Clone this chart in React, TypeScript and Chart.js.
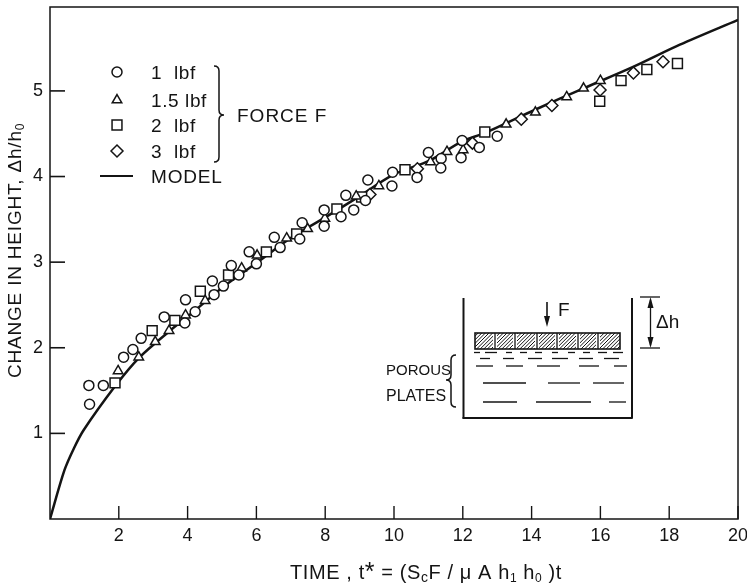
import React, { useEffect, useRef } from "react";
import { Chart, registerables } from "chart.js";
import { drawPoint } from "chart.js/helpers";

Chart.register(...registerables);

const xTickValues = [2, 4, 6, 8, 10, 12, 14, 16, 18, 20];
const yTickValues = [1, 2, 3, 4, 5];

const circles1lbf = [
  [1.13, 1.56], [1.15, 1.34], [1.55, 1.56], [2.14, 1.89], [2.41, 1.98], [2.65, 2.11], [3.32, 2.36], [3.94, 2.56],
  [3.92, 2.29], [4.22, 2.42], [4.72, 2.78], [4.77, 2.62], [5.04, 2.72], [5.27, 2.96], [5.49, 2.85], [5.79, 3.12],
  [6.0, 2.98], [6.52, 3.29], [6.69, 3.17], [7.26, 3.27], [7.33, 3.46], [7.97, 3.61], [7.97, 3.42], [8.46, 3.53],
  [8.6, 3.78], [8.83, 3.61], [9.17, 3.72], [9.24, 3.96], [9.94, 3.89], [9.96, 4.05], [10.67, 3.99], [11.0, 4.28],
  [11.37, 4.21], [11.36, 4.1], [11.95, 4.22], [11.98, 4.42], [12.48, 4.34], [13.0, 4.47],
];
const triangles15lbf = [
  [1.98, 1.73], [2.58, 1.89], [3.06, 2.07], [3.46, 2.2], [3.94, 2.38], [4.51, 2.55], [5.57, 2.93], [6.02, 3.08],
  [6.88, 3.28], [7.49, 3.39], [7.99, 3.51], [8.9, 3.77], [9.56, 3.89], [11.06, 4.17], [11.54, 4.29], [12.01, 4.31],
  [13.26, 4.61], [14.11, 4.75], [15.02, 4.93], [15.51, 5.03], [16.0, 5.12],
];
const squares2lbf = [
  [1.89, 1.59], [2.97, 2.2], [3.63, 2.32], [4.37, 2.66], [5.19, 2.85], [6.29, 3.12], [7.17, 3.33], [8.34, 3.62],
  [9.06, 3.76], [10.32, 4.08], [12.64, 4.52], [15.98, 4.88], [16.6, 5.12], [17.35, 5.25], [18.24, 5.32],
];
const diamonds3lbf = [
  [9.3, 3.79], [10.68, 4.09], [12.28, 4.39], [13.7, 4.67], [14.59, 4.83], [15.99, 5.01], [16.96, 5.21], [17.82, 5.34],
];
const modelCurve = [
  [0, 0], [0.42, 0.57], [0.7, 0.83], [0.98, 1.04], [1.89, 1.55], [2.58, 1.88], [3.46, 2.19], [4.2, 2.43], [5.03, 2.71],
  [6.0, 2.99], [7.06, 3.3], [7.99, 3.52], [8.92, 3.75], [9.97, 4.02], [11.05, 4.19], [11.98, 4.41], [12.65, 4.51],
  [14.1, 4.78], [15.51, 5.03], [16.95, 5.28], [18.31, 5.54], [20, 5.83],
];

const toPoints = (rows: number[][]) => rows.map(([x, y]) => ({ x, y }));
const INK = "#141414";
const FONT = '"Liberation Sans"';

function line(ctx: any, x1: number, y1: number, x2: number, y2: number, w = 1.5) {
  ctx.lineWidth = w;
  ctx.beginPath();
  ctx.moveTo(x1, y1);
  ctx.lineTo(x2, y2);
  ctx.stroke();
}

function text(ctx: any, s: string, x: number, y: number, size = 18, spacing = 0) {
  ctx.font = `${size}px ${FONT}`;
  ctx.letterSpacing = `${spacing}px`;
  ctx.textAlign = "left";
  ctx.textBaseline = "alphabetic";
  ctx.fillText(s, x, y);
}

function rich(ctx: any, parts: [string, number, number][], x: number, y: number, spacing: number) {
  let cx = x;
  for (const [s, size, dy] of parts) {
    text(ctx, s, cx, y + dy, size, spacing);
    cx += ctx.measureText(s).width;
  }
  ctx.letterSpacing = "0px";
}

function brace(ctx: any, x: number, y1: number, y2: number, tipX: number, tipY: number) {
  const dir = tipX > x ? 1 : -1;
  const r = 5;
  ctx.lineWidth = 1.5;
  ctx.beginPath();
  ctx.moveTo(x - dir * r, y1);
  ctx.quadraticCurveTo(x, y1, x, y1 + r);
  ctx.lineTo(x, tipY - r);
  ctx.quadraticCurveTo(x, tipY, tipX, tipY);
  ctx.quadraticCurveTo(x, tipY, x, tipY + r);
  ctx.lineTo(x, y2 - r);
  ctx.quadraticCurveTo(x, y2, x - dir * r, y2);
  ctx.stroke();
}

function arrowHead(ctx: any, x: number, y: number, dir: number) {
  ctx.beginPath();
  ctx.moveTo(x, y);
  ctx.lineTo(x - 3, y - dir * 11);
  ctx.lineTo(x + 3, y - dir * 11);
  ctx.closePath();
  ctx.fill();
}

const frameAndNotes = {
  id: "frameAndNotes",
  afterDraw(chart: any) {
    const { ctx, chartArea: a, scales } = chart;
    ctx.save();
    ctx.strokeStyle = INK;
    ctx.fillStyle = INK;
    ctx.lineCap = "butt";

    // frame and inward ticks
    ctx.lineWidth = 1.5;
    ctx.strokeRect(a.left, a.top, a.right - a.left, a.bottom - a.top);
    for (const v of xTickValues) {
      const x = scales.x.getPixelForValue(v);
      line(ctx, x, a.bottom, x, a.bottom - 13, 1.4);
    }
    for (const v of yTickValues) {
      const y = scales.y.getPixelForValue(v);
      line(ctx, a.left, y, a.left + 15, y, 1.6);
    }

    // axis titles
    rich(ctx, [
      ["TIME , t", 20, 0], ["*", 25, 1], [" = (S", 20, 0], ["c", 14, 3], ["F / \u03BC A h", 20, 0],
      ["1", 12, 3], [" h", 20, 0], ["0", 12, 3], [" )t", 20, 0],
    ], 290, 579, 0.6);
    ctx.save();
    ctx.translate(21, 378);
    ctx.rotate(-Math.PI / 2);
    rich(ctx, [["CHANGE IN HEIGHT, \u0394h/h", 19, 0], ["0", 12, 3]], 0, 0, 0.8);
    ctx.restore();

    // legend
    const legend: [string, string, number, number][] = [
      ["circle", "1  lbf", 72, 5],
      ["triangle", "1.5 lbf", 100, 5.5],
      ["rect", "2  lbf", 125, 7],
      ["rectRot", "3  lbf", 151, 6],
    ];
    for (const [style, label, y, radius] of legend) {
      ctx.fillStyle = "#fff";
      ctx.lineWidth = 1.5;
      drawPoint(ctx, { pointStyle: style, radius, rotation: 0, borderWidth: 1.5 } as any, 117, y);
      ctx.fillStyle = INK;
      text(ctx, label, 151, y + 7, 19, 0.6);
    }
    line(ctx, 100, 176, 133, 176, 2);
    text(ctx, "MODEL", 151, 183, 19, 0.8);
    brace(ctx, 219, 66, 162, 224, 115);
    text(ctx, "FORCE F", 237, 122, 19, 1);
    ctx.letterSpacing = "0px";

    // inset: container
    line(ctx, 463.5, 298, 463.5, 418.5, 2);
    line(ctx, 462.5, 418, 632.5, 418, 2);
    line(ctx, 632, 298, 632, 418.5, 2);

    // inset: hatched plate
    const px = 475, py = 333, pw = 145, ph = 16;
    ctx.save();
    ctx.beginPath();
    ctx.rect(px, py, pw, ph);
    ctx.clip();
    for (let d = -20; d < pw + 20; d += 3.6) line(ctx, px + d, py + ph, px + d + ph, py, 1);
    ctx.strokeStyle = "#fff";
    for (const sx of [495, 515, 537, 557, 578, 598]) line(ctx, sx, py, sx, py + ph, 4);
    ctx.strokeStyle = INK;
    for (const sx of [495, 515, 537, 557, 578, 598]) line(ctx, sx, py, sx, py + ph, 1.3);
    ctx.restore();
    ctx.lineWidth = 1.6;
    ctx.strokeRect(px, py, pw, ph);

    // inset: porous plate dashes
    const rows: [number, number[][]][] = [
      [352.5, [[474, 480], [485, 497], [506, 512], [520, 527], [535, 542], [552, 558], [568, 575], [583, 590], [598, 607], [613, 623]]],
      [358.5, [[480, 490], [503, 514], [528, 542], [552, 568], [579, 593], [604, 619]]],
      [366, [[476, 493], [506, 523], [537, 560], [579, 599], [614, 627]]],
      [383, [[483, 526], [548, 580], [593, 624]]],
      [402, [[483, 517], [536, 591], [609, 626]]],
    ];
    for (const [y, segs] of rows) for (const [x1, x2] of segs) line(ctx, x1, y, x2, y, 1.3);

    // inset: force arrow and height marks
    line(ctx, 547, 302, 547, 320, 1.6);
    arrowHead(ctx, 547, 327, 1);
    text(ctx, "F", 558, 316, 19);
    line(ctx, 640, 297, 660, 297, 1.3);
    line(ctx, 640, 348, 660, 348, 1.3);
    line(ctx, 650.5, 300, 650.5, 345, 1.3);
    arrowHead(ctx, 650.5, 297, -1);
    arrowHead(ctx, 650.5, 348, 1);
    text(ctx, "\u0394h", 656, 328, 19);

    // inset: porous plates label
    text(ctx, "POROUS", 386, 375, 15);
    text(ctx, "PLATES", 386, 401, 16);
    brace(ctx, 451, 355, 407, 446, 380);
    ctx.restore();
  },
};

const tickFont = { family: FONT, size: 18 };

export default function App() {
  const ref = useRef<HTMLCanvasElement>(null);
  useEffect(() => {
    if (!ref.current) return;
    const common = { showLine: false, borderColor: INK, backgroundColor: "#fff", borderWidth: 1.5 };
    const chart = new Chart(ref.current, {
      type: "scatter",
      data: {
        datasets: [
          { label: "1 lbf", data: toPoints(circles1lbf), pointStyle: "circle", pointRadius: 5, ...common },
          { label: "1.5 lbf", data: toPoints(triangles15lbf), pointStyle: "triangle", pointRadius: 5.5, ...common },
          { label: "2 lbf", data: toPoints(squares2lbf), pointStyle: "rect", pointRadius: 7, ...common },
          { label: "3 lbf", data: toPoints(diamonds3lbf), pointStyle: "rectRot", pointRadius: 6, ...common },
          {
            label: "MODEL", data: toPoints(modelCurve), showLine: true, pointRadius: 0, borderColor: INK,
            borderWidth: 2.5, tension: 0.3, fill: false,
          },
        ],
      },
      options: {
        responsive: false,
        animation: false,
        layout: { autoPadding: false, padding: { top: 7, right: 9, left: 0, bottom: 0 } },
        plugins: { legend: { display: false }, tooltip: { enabled: false } },
        scales: {
          x: {
            type: "linear", min: 0, max: 20,
            afterBuildTicks: (s: any) => { s.ticks = xTickValues.map((value) => ({ value })); },
            afterFit: (s: any) => { s.height = 68; s.paddingLeft = 0; s.paddingRight = 0; },
            border: { display: false },
            grid: { display: false, drawTicks: false },
            ticks: { padding: 6, font: tickFont, color: INK, maxRotation: 0, autoSkip: false },
          },
          y: {
            type: "linear", min: 0, max: 5.98,
            afterBuildTicks: (s: any) => { s.ticks = yTickValues.map((value) => ({ value })); },
            afterFit: (s: any) => { s.width = 50; s.paddingTop = 0; s.paddingBottom = 0; },
            border: { display: false },
            grid: { display: false, drawTicks: false },
            ticks: { padding: 7, font: tickFont, color: INK, autoSkip: false },
          },
        },
      },
      plugins: [frameAndNotes],
    } as any);
    return () => chart.destroy();
  }, []);
  return (
    <canvas
      ref={ref}
      width={747}
      height={587}
      style={{ position: "absolute", left: 0, top: 0, display: "block", width: 747, height: 587 }}
    />
  );
}
